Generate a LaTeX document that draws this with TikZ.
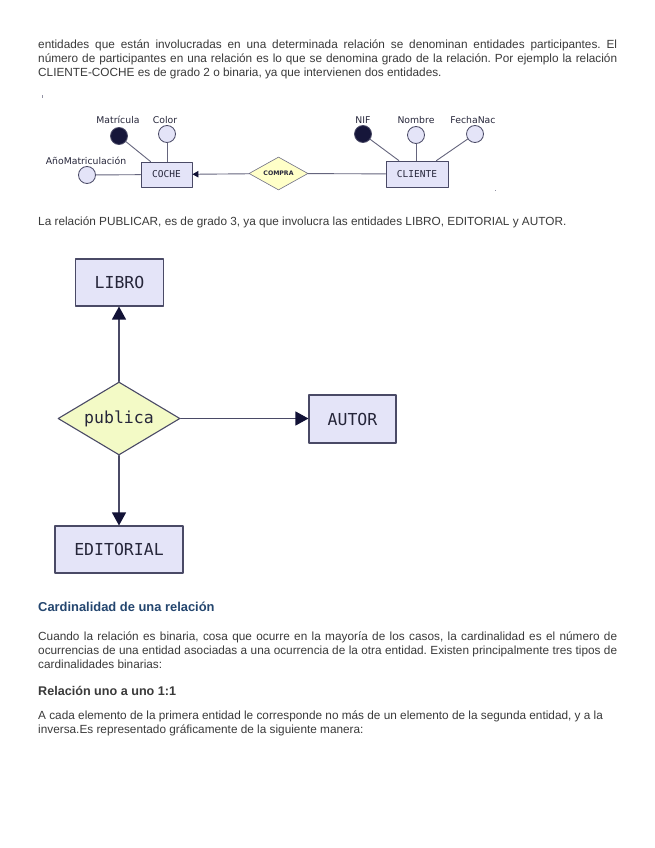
\documentclass[tikz,border=0pt]{standalone}
\usepackage{fontspec}
\setmainfont{Liberation Sans}
\newfontfamily\ermono{DejaVu Sans Mono}
\newfontfamily\ersans{DejaVu Sans}
\usetikzlibrary{arrows.meta,shapes.geometric}
\frenchspacing
\definecolor{PageInk}{HTML}{3A3A3A}
\definecolor{PageHead}{HTML}{24466F}
\definecolor{ErBox}{HTML}{E4E4F8}
\definecolor{ErRel}{HTML}{F3FAC6}
\definecolor{ErRelSmall}{HTML}{FFFFC8}
\definecolor{ErLine}{HTML}{4A4A66}
\definecolor{ErTip}{HTML}{121236}
\definecolor{ErKey}{HTML}{16163A}
\definecolor{ErText}{HTML}{26263A}
\tikzset{
    er/page/.style={x=1pt, y=-1pt, line cap=round, line join=round},
    er/body/.style={
        font=\fontsize{11.8}{14}\selectfont, text=PageInk,
        inner sep=0pt, anchor=base west
    },
    er/heading/.style={er/body, font=\fontsize{12.9}{14}\selectfont\bfseries, text=PageHead},
    er/subhead/.style={er/body, font=\fontsize{12.6}{14}\selectfont\bfseries},
    er/entity/.style={
        draw=ErLine, fill=ErBox, line width=1.1pt, inner sep=0pt,
        font=\ermono\fontsize{16.5}{16}\selectfont, text=ErText
    },
    er/relation/.style={
        diamond, aspect=1.7, draw=ErLine, fill=ErRel, line width=1.1pt,
        inner sep=0pt, font=\ermono\fontsize{16.5}{16}\selectfont, text=ErText
    },
    er/link/.style={draw=ErLine, line width=1.2pt},
    er/arrow/.style={er/link, -{Triangle[length=13pt, width=14pt, color=ErTip]}},
    er/box/.style={
        draw=ErLine, fill=ErBox, line width=0.9pt, inner sep=0pt,
        font=\ermono\fontsize{9.5}{9}\selectfont, text=ErText
    },
    er/rel/.style={
        diamond, aspect=1.8, draw=ErLine!80, fill=ErRelSmall, line width=0.6pt,
        inner sep=0pt, font=\ersans\bfseries\fontsize{6.2}{7}\selectfont, text=ErText
    },
    er/attr/.style={
        circle, draw=ErLine, fill=ErBox, line width=0.8pt,
        minimum size=17pt, inner sep=0pt
    },
    er/key/.style={er/attr, fill=ErKey},
    er/attrtext/.style={font=\ersans\fontsize{9.3}{9}\selectfont, text=ErText, inner sep=0pt, anchor=base},
    er/thin/.style={draw=ErLine!85, line width=0.9pt},
    er/thinarrow/.style={er/thin, -{Triangle[length=6pt, width=6.5pt, color=ErTip]}}
}

\begin{document}
\begin{tikzpicture}[er/page]
    \useasboundingbox[fill=white] (0,0) rectangle (655,848);

    % texto de arriba
    \node[er/body] (p1a) at (38,49)
        {\makebox[579pt][s]{entidades que están involucradas en una determinada relación se denominan entidades participantes. El}};
    \node[er/body] (p1b) at (38,63)
        {\makebox[579pt][s]{número de participantes en una relación es lo que se denomina grado de la relación. Por ejemplo la relación}};
    \node[er/body] (p1c) at (38,77)
        {CLIENTE-COCHE es de grado 2 o binaria, ya que intervienen dos entidades.};
    \fill[ErLine!60] (41.5,95) rectangle (42.5,98);

    % relacion binaria CLIENTE-COCHE
    \node[er/box, minimum width=51pt, minimum height=25pt] (coche) at (166.5,174.5) {COCHE};
    \node[er/box, minimum width=62pt, minimum height=26pt] (cliente) at (417,174) {CLIENTE};
    \node[er/rel, minimum width=59pt, minimum height=33pt] (compra) at (278.5,173.5) {COMPRA};
    \node[er/key] (mat) at (119,136) {};
    \node[er/attr] (color) at (167,134) {};
    \node[er/attr] (ano) at (87,175) {};
    \node[er/key] (nif) at (363,134) {};
    \node[er/attr] (nombre) at (416,135) {};
    \node[er/attr] (fecha) at (475,134) {};
    \node[er/attrtext] (matlbl) at (118,124) {Matrícula};
    \node[er/attrtext] (colorlbl) at (165,124) {Color};
    \node[er/attrtext] (anolbl) at (86,164) {AñoMatriculación};
    \node[er/attrtext] (niflbl) at (363,124) {NIF};
    \node[er/attrtext] (nombrelbl) at (416,124) {Nombre};
    \node[er/attrtext] (fechalbl) at (473,124) {FechaNac};
    \draw[er/thin] (mat) -- (coche);
    \draw[er/thin] (color) -- (color |- coche.north);
    \draw[er/thin] (ano) -- (coche);
    \draw[er/thin] (nif) -- (cliente);
    \draw[er/thin] (nombre) -- (nombre |- cliente.north);
    \draw[er/thin] (fecha) -- (cliente);
    \draw[er/thinarrow] (compra) -- (coche);
    \draw[er/thin] (compra) -- (cliente);
    \fill[ErLine!60] (494.5,189.5) rectangle (495.5,190.5);

    \node[er/body] (p2) at (38,225)
        {La relación PUBLICAR, es de grado 3, ya que involucra las entidades LIBRO, EDITORIAL y AUTOR.};

    % relacion ternaria
    \node[er/entity, minimum width=88pt, minimum height=47pt] (libro) at (119.5,282.5) {LIBRO};
    \node[er/relation, minimum width=122pt, minimum height=73pt] (publica) at (119,418.5) {publica};
    \node[er/entity, minimum width=87pt, minimum height=48pt] (autor) at (352.5,419) {AUTOR};
    \node[er/entity, minimum width=128pt, minimum height=47pt] (editorial) at (119,549.5) {EDITORIAL};
    \draw[er/arrow] (publica.north) -- (publica.north |- libro.south);
    \draw[er/arrow] (publica.east) -- (publica.east -| autor.west);
    \draw[er/arrow] (publica.south) -- (publica.south |- editorial.north);

    % cardinalidad
    \node[er/heading] (h1) at (38,611) {Cardinalidad de una relación};
    \node[er/body] (p3a) at (38,640)
        {\makebox[579pt][s]{Cuando la relación es binaria, cosa que ocurre en la mayoría de los casos, la cardinalidad es el número de}};
    \node[er/body] (p3b) at (38,654)
        {\makebox[579pt][s]{ocurrencias de una entidad asociadas a una ocurrencia de la otra entidad. Existen principalmente tres tipos de}};
    \node[er/body] (p3c) at (38,668) {cardinalidades binarias:};
    \node[er/subhead] (h2) at (38,695) {Relación uno a uno 1:1};
    \node[er/body] (p4a) at (38,719)
        {A cada elemento de la primera entidad le corresponde no más de un elemento de la segunda entidad, y a la};
    \node[er/body] (p4b) at (38,733)
        {inversa.Es representado gráficamente de la siguiente manera:};
\end{tikzpicture}
\end{document}
